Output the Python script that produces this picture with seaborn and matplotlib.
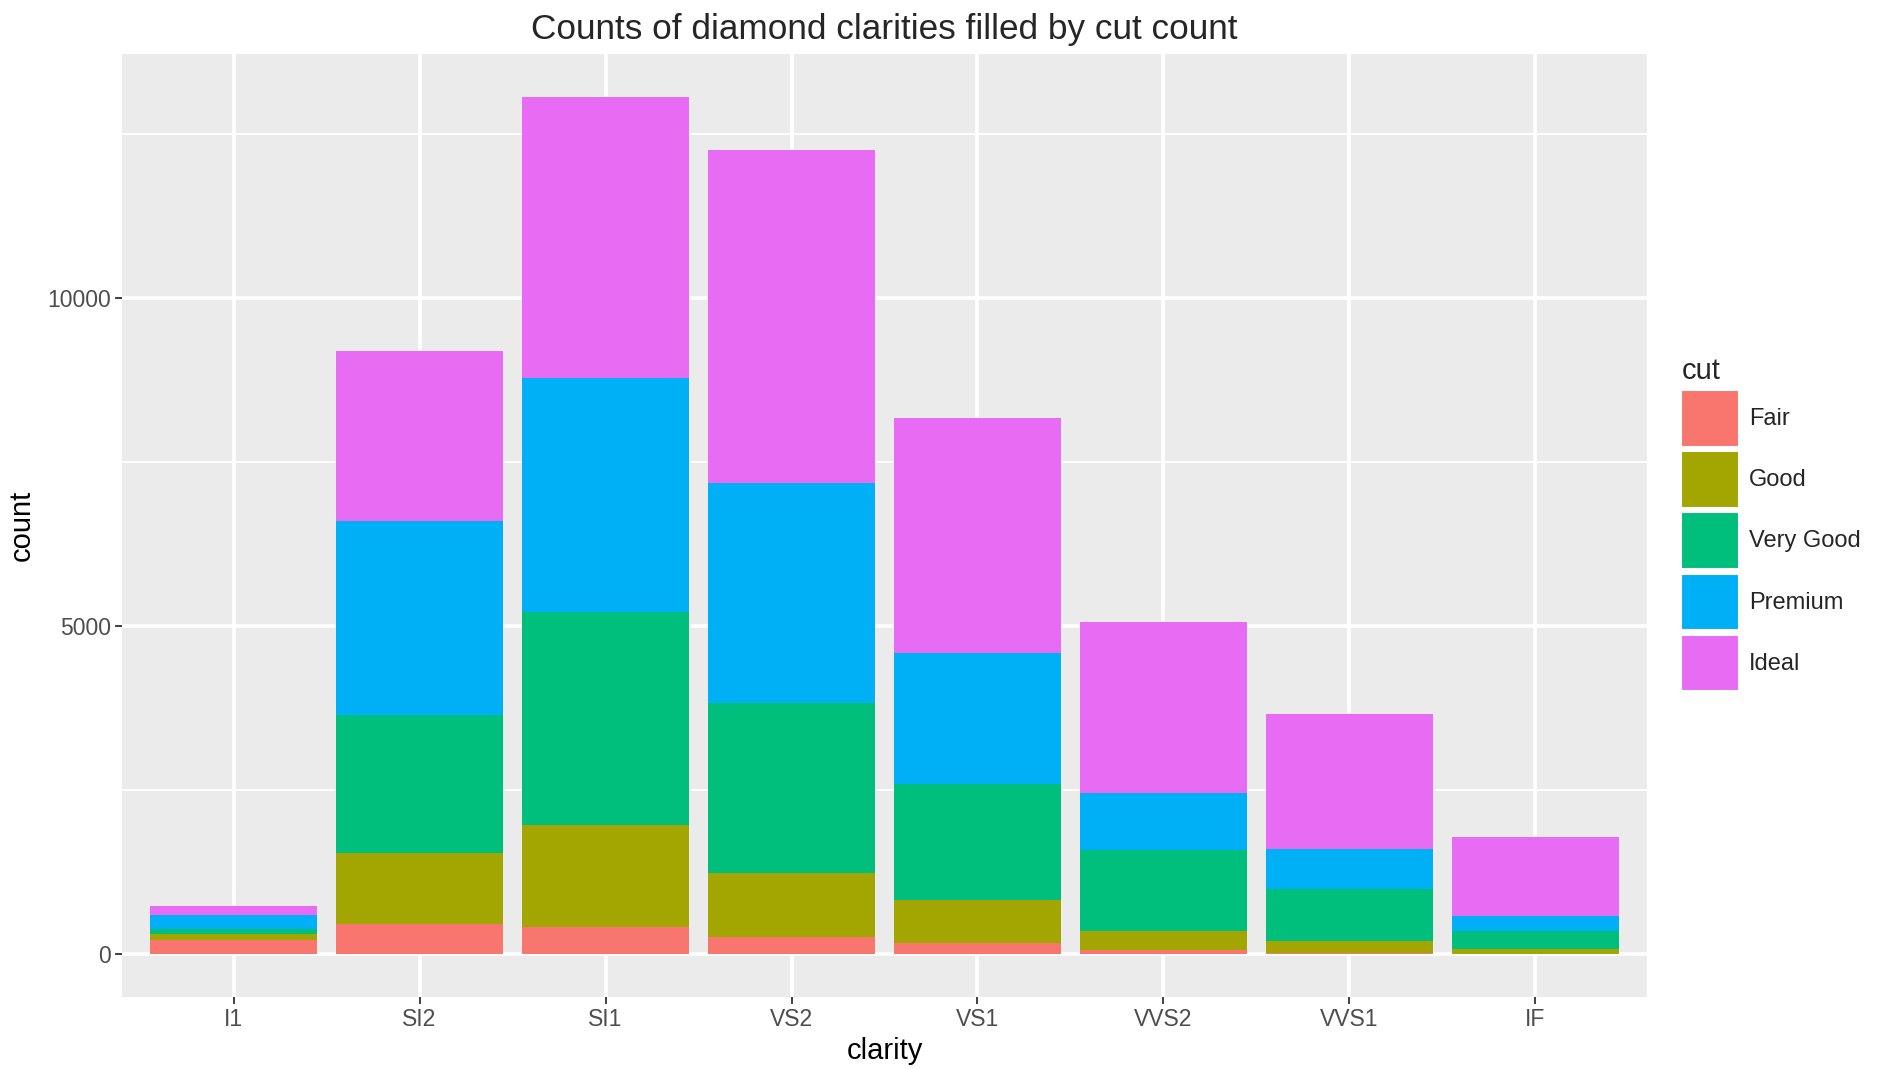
import numpy as np
import pandas as pd
import seaborn as sns
import matplotlib.pyplot as plt
from matplotlib.patches import Patch
from matplotlib.ticker import FixedLocator

# datos: conteo de diamantes por claridad y corte
clarity = ['I1', 'SI2', 'SI1', 'VS2', 'VS1', 'VVS2', 'VVS1', 'IF']
cuts = ['Fair', 'Good', 'Very Good', 'Premium', 'Ideal']
fair = [210, 466, 408, 261, 170, 69, 17, 9]
good = [96, 1081, 1560, 978, 648, 286, 186, 71]
very_good = [84, 2100, 3240, 2591, 1775, 1235, 789, 268]
premium = [205, 2949, 3575, 3357, 1989, 870, 616, 230]
ideal = [146, 2598, 4282, 5071, 3589, 2606, 2047, 1212]
colores = ['#F8766D', '#A3A500', '#00BF7D', '#00B0F6', '#E76BF3']

# %% tabla apilada (acumulados)
tabla = pd.DataFrame([fair, good, very_good, premium, ideal], index=cuts, columns=clarity).T
acum = tabla.cumsum(axis=1)

sns.set_theme(style='darkgrid')
plt.rcParams['font.family'] = ['Liberation Sans', 'DejaVu Sans']

fig = plt.figure(figsize=(18.81, 10.69), dpi=100)
ax = fig.add_axes([122/1881, 1-997/1069, (1647-122)/1881, (997-54)/1069])
ax.set_facecolor('#EBEBEB')

# barras superpuestas de arriba hacia abajo
for cut, col in reversed(list(zip(cuts, colores))):
    df = pd.DataFrame({'clarity': clarity, 'count': acum[cut].values})
    sns.barplot(data=df, x='clarity', y='count', order=clarity, color=col,
                width=0.9, saturation=1, ax=ax, linewidth=0, zorder=3)

ax.set_xlim(-0.6, len(clarity) - 0.4)
total = acum['Ideal'].max()
ax.set_ylim(-0.05*total, 1.05*total)
ax.set_yticks([0, 5000, 10000])
ax.yaxis.set_minor_locator(FixedLocator([2500, 7500, 12500]))

ax.grid(which='major', color='white', linewidth=2.6)
ax.grid(which='minor', axis='y', color='white', linewidth=1.3)
ax.set_axisbelow(True)
for s in ax.spines.values():
    s.set_visible(False)

ax.tick_params(axis='both', which='major', length=5, width=1.3, color='#333333',
               labelsize=16.5, labelcolor='#4D4D4D', pad=3)
ax.tick_params(axis='both', which='minor', length=0)
ax.tick_params(axis='x', bottom=True)
ax.tick_params(axis='y', left=True)

ax.set_xlabel('clarity', fontsize=21, color='black', labelpad=4)
ax.set_ylabel('count', fontsize=21, color='black', labelpad=8)
ax.set_title('Counts of diamond clarities filled by cut count', fontsize=25.3, pad=11)

handles = [Patch(facecolor=c, edgecolor='white', linewidth=1.5, label=l) for l, c in zip(cuts, colores)]
leg = fig.legend(handles=handles, title='cut', loc='upper left',
                 bbox_to_anchor=(1672/1881, 1-348/1069), frameon=False,
                 fontsize=17, title_fontsize=21, handlelength=2.45,
                 handleheight=3.3, labelspacing=0.2, handletextpad=0.42,
                 alignment='left', borderaxespad=0)

fig.savefig('out.png', dpi=100)
